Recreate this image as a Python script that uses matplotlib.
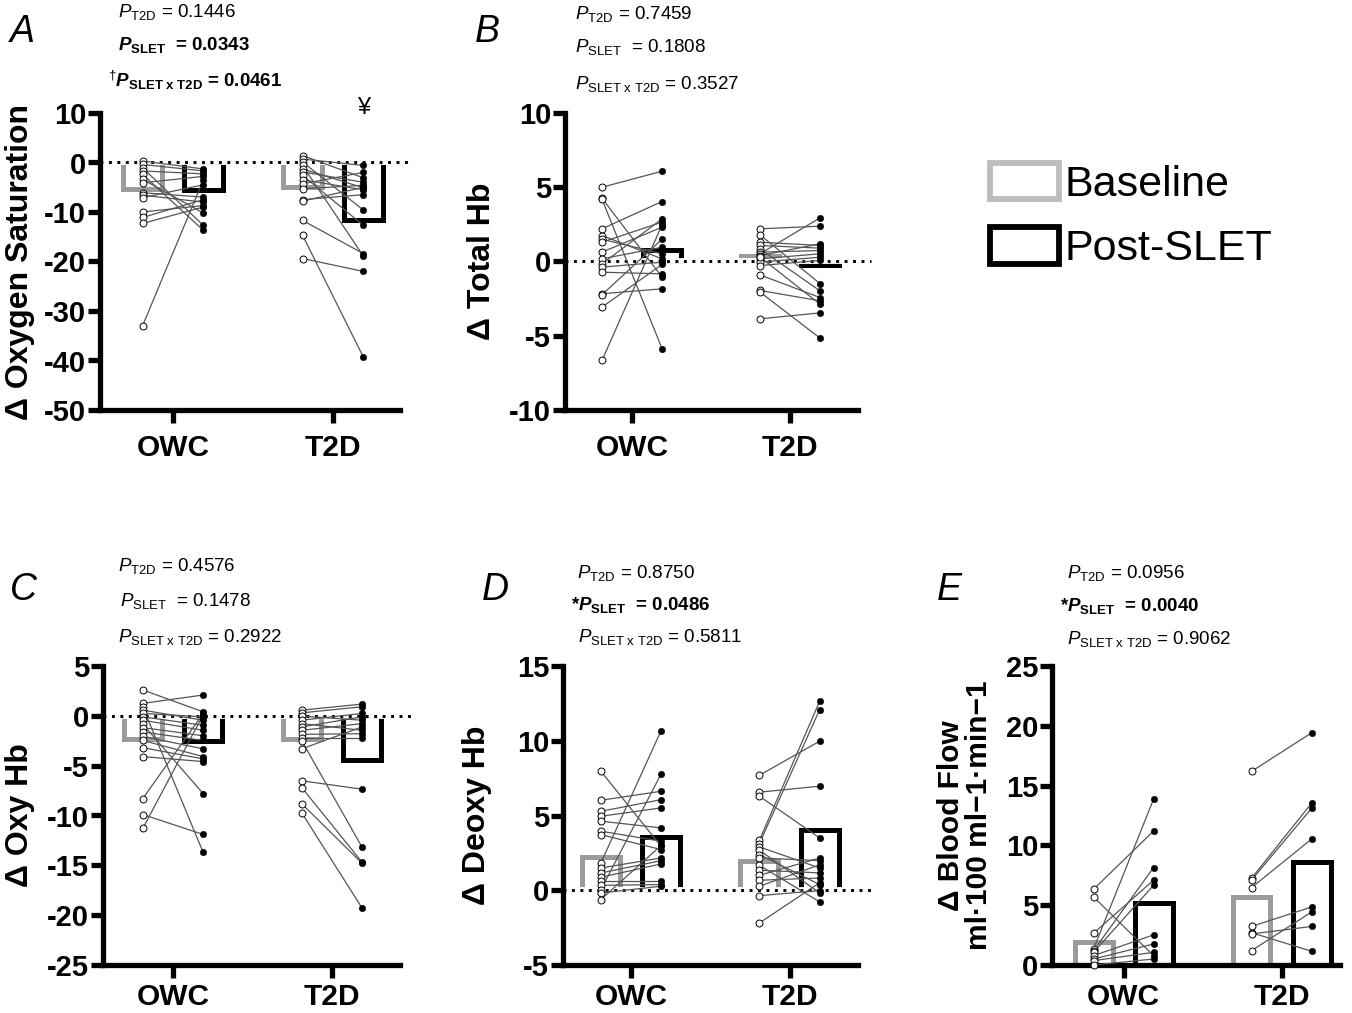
import matplotlib
matplotlib.use("Agg")
import matplotlib.pyplot as plt
from matplotlib.patches import Patch

plt.rcParams['font.family'] = ['Liberation Sans', 'DejaVu Sans']
plt.rcParams['mathtext.fontset'] = 'custom'
plt.rcParams['mathtext.rm'] = 'Liberation Sans'
plt.rcParams['mathtext.it'] = 'Liberation Sans:italic'
plt.rcParams['mathtext.bf'] = 'Liberation Sans:bold'
plt.rcParams['mathtext.bfit'] = 'Liberation Sans:bold:italic'

groups = ['OWC', 'T2D']

# ---- Panel A: delta oxygen saturation ----
a_owc_base = [0.3, -0.4, -1.1, -1.7, -2.4, -3.4, -4.1, -6.1, -6.6, -7.1, -10.0, -11.1, -12.3, -33.0]
a_owc_post = [-1.3, -1.7, -12.7, -2.3, -13.7, -10.2, -2.8, -7.0, -8.0, -4.5, -8.7, -7.5, -9.0, -3.5]
a_t2d_base = [1.4, 0.7, 0.1, -0.6, -1.3, -1.9, -2.6, -3.5, -4.3, -5.3, -7.5, -7.8, -11.7, -14.7, -19.4]
a_t2d_post = [-3.1, -0.6, -9.6, -18.9, -5.1, -4.0, -12.7, -5.5, -2.0, -4.6, -6.5, -5.0, -18.4, -39.3, -22.0]
a_bar_base = [-5.4, -4.9]
a_bar_post = [-5.6, -11.7]

# ---- Panel B: delta total Hb ----
b_owc_base = [5.0, 4.26, 4.2, 2.2, 1.75, 1.5, 1.3, 0.63, 0.18, -0.16, -0.38, -0.72, -2.17, -2.24, -3.07, -6.66]
b_owc_post = [6.08, -1.05, -5.87, 4.04, 0.18, 0.52, 2.65, 2.31, 0.96, 2.87, -0.04, -0.83, -1.84, 1.5, -0.2, 2.47]
b_t2d_base = [2.2, 1.79, 1.3, 1.08, 0.85, 0.63, 0.52, 0.4, 0.18, -0.04, -0.27, -0.9, -1.95, -2.06, -3.86, 0.3]
b_t2d_post = [2.38, -1.49, 1.08, 0.9, -1.98, 0.74, 2.94, 1.19, 0.52, 0.29, 0.07, -2.43, -2.65, -5.16, -3.46, -2.88]
b_bar_base = [0.1, 0.35]
b_bar_post = [0.78, -0.25]

# ---- Panel C: delta oxy Hb ----
c_owc_base = [2.6, 1.25, 0.91, 0.57, 0.24, -0.1, -0.44, -0.84, -1.18, -1.62, -2.06, -2.47, -3.2, -4.09, -8.31, -9.9, -11.3]
c_owc_post = [0.4, 2.09, -13.7, -0.44, -0.1, -0.95, -1.45, -7.8, -2.0, -2.47, -3.31, -4.09, -4.32, -4.59, 0.24, -11.9, 0.1]
c_t2d_base = [0.57, 0.3, -0.03, -0.44, -0.78, -1.11, -1.45, -1.86, -2.2, -2.5, -3.31, -6.52, -7.2, -8.82, -9.73]
c_t2d_post = [1.18, 0.91, -0.44, 0.24, -1.45, -0.1, -0.78, -1.79, -2.2, -13.2, -1.11, -7.36, -14.7, -14.8, -19.3]
c_bar_base = [-2.3, -2.3]
c_bar_post = [-2.5, -4.4]

# ---- Panel D: delta deoxy Hb ----
d_owc_base = [7.96, 6.02, 5.28, 4.95, 4.62, 3.95, 3.72, 1.83, 1.49, 1.16, 0.87, 0.6, 0.33, 0.04, -0.18, -0.62]
d_owc_post = [2.94, 6.62, 6.06, 5.51, 4.17, 3.28, 2.72, 10.68, 2.16, 1.98, 1.76, 0.6, 0.38, 7.78, 0.27, 3.0]
d_t2d_base = [7.69, 6.56, 6.29, 3.34, 3.12, 2.9, 2.68, 2.39, 2.16, 1.67, 1.34, 1.0, 0.67, 0.27, -0.36, -2.19]
d_t2d_post = [9.97, 6.96, 3.5, 12.64, 12.08, 1.49, -0.18, 0.38, 1.98, -0.78, 1.16, 2.16, 0.82, 1.7, -0.02, 0.5]
d_bar_base = [2.2, 1.95]
d_bar_post = [3.55, 4.0]

# ---- Panel E: delta blood flow ----
e_owc_base = [6.33, 5.69, 2.66, 1.34, 1.2, 1.06, 0.78, 0.5, 0.36, 0.0]
e_owc_post = [11.2, 0.78, 7.09, 13.87, 8.15, 6.67, 2.52, 1.76, 1.06, 0.5]
e_t2d_base = [16.19, 7.25, 7.1, 6.47, 3.22, 2.7, 2.6, 1.2]
e_t2d_post = [19.41, 13.53, 13.1, 10.53, 4.85, 1.15, 3.22, 4.43]
e_bar_base = [1.96, 5.65]
e_bar_post = [5.15, 8.6]

W, H = 1352, 1013
fig = plt.figure(figsize=(W / 100, H / 100), dpi=100)

GRAY = '#9b9b9b'
SPINE_LW = 3.8
BAR_LW = 3.6
OFF = 0.19
BW = 0.24


def px_rect(l, t, r, b):
    return [l / W, 1 - b / H, (r - l) / W, (b - t) / H]


def panel(rect, xlim, ylim, yticks, ylabel, lab_x, data, bars_b, bars_p, zero=True,
          lab_size=23, xpad=8):
    ax = fig.add_axes(rect)
    ax.set_xlim(*xlim)
    ax.set_ylim(*ylim)
    for s in ['top', 'right']:
        ax.spines[s].set_visible(False)
    for s in ['left', 'bottom']:
        ax.spines[s].set_linewidth(SPINE_LW)
    ax.set_yticks(yticks)
    ax.set_yticklabels([str(t) for t in yticks])
    ax.set_xticks([0, 1])
    ax.set_xticklabels(groups)
    ax.tick_params(axis='both', length=9, width=SPINE_LW, direction='out')
    ax.tick_params(axis='y', labelsize=21, pad=1)
    ax.tick_params(axis='x', labelsize=21.5, pad=xpad)
    for lbl in ax.get_yticklabels() + ax.get_xticklabels():
        lbl.set_fontweight('bold')
    ax.set_ylabel(ylabel, fontsize=lab_size, fontweight='bold', linespacing=1.0)
    ax.yaxis.set_label_coords(lab_x, 0.5)

    xs = [0, 1]
    ax.bar([x - OFF for x in xs], bars_b, width=BW, fill=False, edgecolor=GRAY,
           linewidth=BAR_LW, zorder=2, joinstyle='miter')
    ax.bar([x + OFF for x in xs], bars_p, width=BW, fill=False, edgecolor='black',
           linewidth=BAR_LW, zorder=2, joinstyle='miter')
    if zero:
        x0, x1 = xlim
        ax.plot([x0, x1 + 0.08], [0, 0], color='white', lw=BAR_LW + 0.6,
                zorder=2.2, clip_on=False, solid_capstyle='butt')
        ax.plot([x0, x1 + 0.08], [0, 0], color='black', lw=2.1,
                linestyle=(0, (1, 1.9)), zorder=2.3, clip_on=False)
    for gi, (base, post) in enumerate(data):
        for yb, yp in zip(base, post):
            ax.plot([gi - OFF, gi + OFF], [yb, yp], color='#555555', lw=0.9, zorder=3)
        ax.plot([gi - OFF] * len(base), base, 'o', ms=5, mfc='white', mec='black',
                mew=0.7, zorder=4, clip_on=False)
        ax.plot([gi + OFF] * len(post), post, 'o', ms=4.6, mfc='black', mec='black',
                mew=0.4, zorder=4, clip_on=False)
    return ax


axA = panel(px_rect(100, 113, 400, 410), (-0.456, 1.419), (-50, 10),
            [10, 0, -10, -20, -30, -40, -50], '\u0394 Oxygen Saturation', -0.215,
            [(a_owc_base, a_owc_post), (a_t2d_base, a_t2d_post)], a_bar_base, a_bar_post)
axB = panel(px_rect(565, 113, 858, 410), (-0.424, 1.430), (-10, 10),
            [10, 5, 0, -5, -10], '\u0394 Total Hb', -0.232,
            [(b_owc_base, b_owc_post), (b_t2d_base, b_t2d_post)], b_bar_base, b_bar_post)
axC = panel(px_rect(103, 666, 400, 965), (-0.44, 1.428), (-25, 5),
            [5, 0, -5, -10, -15, -20, -25], '\u0394 Oxy Hb', -0.229,
            [(c_owc_base, c_owc_post), (c_t2d_base, c_t2d_post)], c_bar_base, c_bar_post,
            xpad=4)
axD = panel(px_rect(563, 666, 858, 965), (-0.429, 1.432), (-5, 15),
            [15, 10, 5, 0, -5], '\u0394 Deoxy Hb', -0.24,
            [(d_owc_base, d_owc_post), (d_t2d_base, d_t2d_post)], d_bar_base, d_bar_post,
            xpad=4)
axE = panel(px_rect(1052, 666, 1340, 965), (-0.453, 1.37), (0, 25),
            [0, 5, 10, 15, 20, 25], '\u0394 Blood Flow\nml\u00b7100 ml\u22121\u00b7min\u22121', -0.205,
            [(e_owc_base, e_owc_post), (e_t2d_base, e_t2d_post)], e_bar_base, e_bar_post,
            zero=False, lab_size=21.5, xpad=4)

# ¥ marker above T2D post bar in A
axA.text(1 + OFF, 11.0, '\u00a5', ha='center', va='center', fontsize=17)


def ftext(x, y, s, **kw):
    fig.text(x / W, 1 - y / H, s, **kw)


# panel letters
for lx, ly, L in [(10, 42, 'A'), (475, 42, 'B'), (10, 600, 'C'), (482, 600, 'D'), (937, 600, 'E')]:
    ftext(lx, ly, L, fontsize=27, style='italic', va='baseline', ha='left')

PS = 13.5
P_T2D = r'$\mathit{P}_{\mathrm{T2D}}$'
P_SLET = r'$\mathit{P}_{\mathrm{SLET}}$'
P_INT = r'$\mathit{P}_{\mathrm{SLET\ x\ T2D}}$'
P_SLET_B = r'$\mathbfit{P}_{\mathbf{SLET}}$'
P_INT_B = r'$\mathbfit{P}_{\mathbf{SLET\ x\ T2D}}$'

stats = [
    # (x, baseline y, text, bold)
    (118, 17, P_T2D + ' = 0.1446', False),
    (118, 50, P_SLET_B + '  = 0.0343', True),
    (108, 87, r'$^{\dagger}$' + P_INT_B + ' = 0.0461', True),
    (575, 19, P_T2D + ' = 0.7459', False),
    (575, 52, P_SLET + '  = 0.1808', False),
    (575, 89, P_INT + ' = 0.3527', False),
    (118, 571, P_T2D + ' = 0.4576', False),
    (120, 606, P_SLET + '  = 0.1478', False),
    (118, 642, P_INT + ' = 0.2922', False),
    (577, 578, P_T2D + ' = 0.8750', False),
    (571, 610, '*' + P_SLET_B + '  = 0.0486', True),
    (578, 642, P_INT + ' = 0.5811', False),
    (1067, 578, P_T2D + ' = 0.0956', False),
    (1060, 611, '*' + P_SLET_B + '  = 0.0040', True),
    (1067, 644, P_INT + ' = 0.9062', False),
]
for x, y, s, b in stats:
    ftext(x, y, s, fontsize=PS, fontweight='bold' if b else 'normal', va='baseline', ha='left')

handles = [Patch(facecolor='white', edgecolor='#bdbdbd', linewidth=4.2),
           Patch(facecolor='white', edgecolor='black', linewidth=4.2)]
fig.legend(handles, ['Baseline', 'Post-SLET'], loc='upper left',
           bbox_to_anchor=(990 / W, 1 - 163 / H), frameon=False, fontsize=31,
           handlelength=1.6, handleheight=0.92, handletextpad=0.12,
           labelspacing=0.52, borderpad=0, borderaxespad=0)

fig.savefig('out.png', dpi=100)
